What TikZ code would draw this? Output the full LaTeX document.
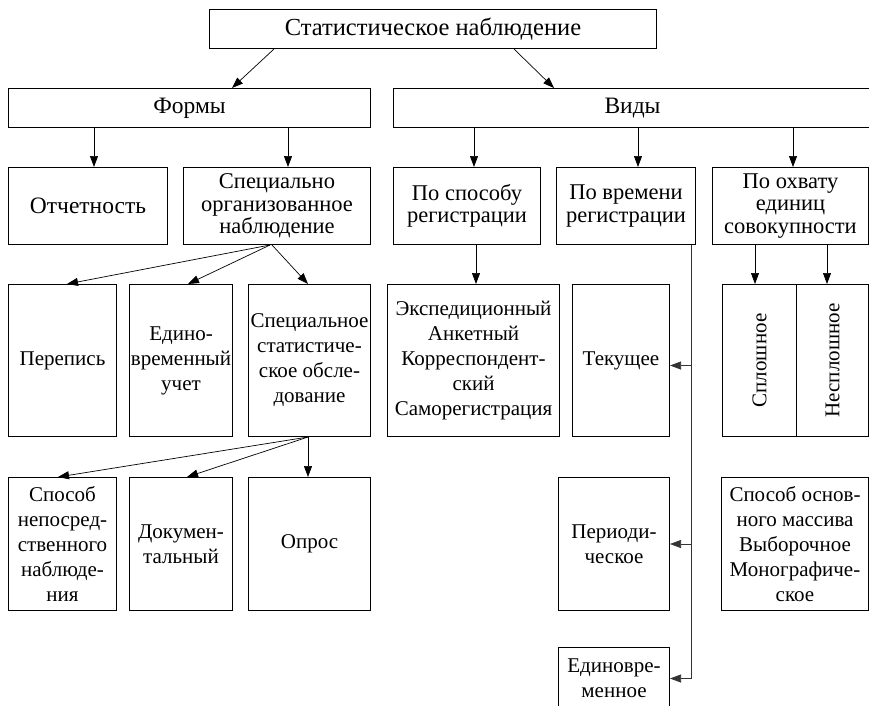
\documentclass[tikz,border=0pt]{standalone}
\usepackage{fontspec}
\setmainfont{Liberation Serif}
\usetikzlibrary{arrows.meta}
\begin{document}
\begin{tikzpicture}[x=1pt,y=-1pt,
  box/.style={draw, line width=1pt, inner sep=0pt, align=center, anchor=north west,
              font=\fontsize{21}{25}\selectfont},
  big/.style={font=\fontsize{23.5}{23}\selectfont},
  mid/.style={font=\fontsize{22.5}{22.5}\selectfont},
  arr/.style={line width=0.7pt, -{Triangle[length=11pt,width=8pt]}},
  vline/.style={line width=0.9pt, draw=black!80}]
\clip (0,0) rectangle (869,705);
% level 0
\node[box, font=\fontsize{24.5}{24}\selectfont, minimum width=447pt, minimum height=39pt] (top) at (209,9) {Статистическое наблюдение};
% level 1
\node[box, big, minimum width=362pt, minimum height=39pt] (forms) at (8,88) {Формы};
\node[box, big, minimum width=478pt, minimum height=39pt] (vidy) at (393,88) {Виды};
% level 2
\node[box, big, minimum width=159pt, minimum height=77pt] (otch) at (8,167) {Отчетность};
\node[box, mid, minimum width=187pt, minimum height=77pt] (spec) at (183,167) {Специально\\организованное\\наблюдение};
\node[box, mid, minimum width=147pt, minimum height=77pt] (sposob) at (393,167) {По способу\\регистрации};
\node[box, mid, minimum width=139pt, minimum height=77pt] (vremya) at (556,167) {По времени\\регистрации};
\node[box, mid, minimum width=156pt, minimum height=77pt] (ohvat) at (712,167) {По охвату\\единиц\\совокупности};
% level 3
\node[box, minimum width=108pt, minimum height=152pt] (perepis) at (8,284) {Перепись};
\node[box, minimum width=103pt, minimum height=152pt] (edino) at (129,284) {Едино-\\временный\\учет};
\node[box, minimum width=122pt, minimum height=152pt] (specstat) at (248,284) {Специальное\\статистиче-\\ское обсле-\\дование};
\node[box, minimum width=172pt, minimum height=152pt] (eksp) at (387,284) {Экспедиционный\\Анкетный\\Корреспондент-\\ский\\Саморегистрация};
\node[box, minimum width=97pt, minimum height=152pt] (tek) at (572,284) {Текущее};
\node[box, minimum width=74pt, minimum height=152pt] (splosh) at (722,284) {\rotatebox{90}{Сплошное}};
\node[box, minimum width=72pt, minimum height=152pt] (nesplosh) at (796,284) {\rotatebox{90}{Несплошное}};
% level 4
\node[box, minimum width=108pt, minimum height=133pt] (sposobnep) at (8,477) {Способ\\непосред-\\ственного\\наблюде-\\ния};
\node[box, minimum width=103pt, minimum height=133pt] (dokum) at (129,477) {Докумен-\\тальный};
\node[box, minimum width=122pt, minimum height=133pt] (opros) at (248,477) {Опрос};
\node[box, minimum width=111pt, minimum height=133pt] (period) at (558,477) {Периоди-\\ческое};
\node[box, minimum width=147pt, minimum height=133pt] (osnov) at (721,477) {Способ основ-\\ного массива\\Выборочное\\Монографиче-\\ское};
% level 5
\node[box, minimum width=111pt, minimum height=62pt] (edinovr) at (558,647) {Единовре-\\менное};
% connectors
\draw[arr] ([xshift=65pt]top.south west) -- ([xshift=224pt]forms.north west);
\draw[arr] ([xshift=305pt]top.south west) -- ([xshift=161pt]vidy.north west);
\draw[arr] ([xshift=86pt]forms.south west) -- ([xshift=86pt]otch.north west);
\draw[arr] ([xshift=280pt]forms.south west) -- ([xshift=105pt]spec.north west);
\draw[arr] ([xshift=81pt]vidy.south west) -- ([xshift=81pt]sposob.north west);
\draw[arr] ([xshift=245pt]vidy.south west) -- ([xshift=82pt]vremya.north west);
\draw[arr] ([xshift=400pt]vidy.south west) -- ([xshift=81pt]ohvat.north west);
\coordinate (sp) at ([xshift=87pt]spec.south west);
\draw[arr] (sp) -- ([xshift=59pt]perepis.north west);
\draw[arr] (sp) -- ([xshift=59pt]edino.north west);
\draw[arr] ([xshift=2pt]sp) -- ([xshift=60pt]specstat.north west);
\draw[arr] ([xshift=83pt]sposob.south west) -- ([xshift=89pt]eksp.north west);
\coordinate (vt) at ([xshift=135pt]vremya.south west);
\draw[vline, arr] (vt) |- (edinovr.east);
\draw[vline, arr] (vt |- tek.east) ++(0,5) -- ([yshift=-5pt]tek.east);
\draw[vline, arr] (vt |- period.east) -- (period.east);
\draw[arr] ([xshift=43pt]ohvat.south west) -- ([xshift=33pt]splosh.north west);
\draw[arr] ([xshift=115pt]ohvat.south west) -- ([xshift=31pt]nesplosh.north west);
\coordinate (ss) at ([xshift=60pt]specstat.south west);
\draw[arr] (ss) -- ([xshift=50pt]sposobnep.north west);
\draw[arr] (ss) -- ([xshift=58pt]dokum.north west);
\draw[arr] (ss) -- ([xshift=60pt]opros.north west);
\end{tikzpicture}
\end{document}
